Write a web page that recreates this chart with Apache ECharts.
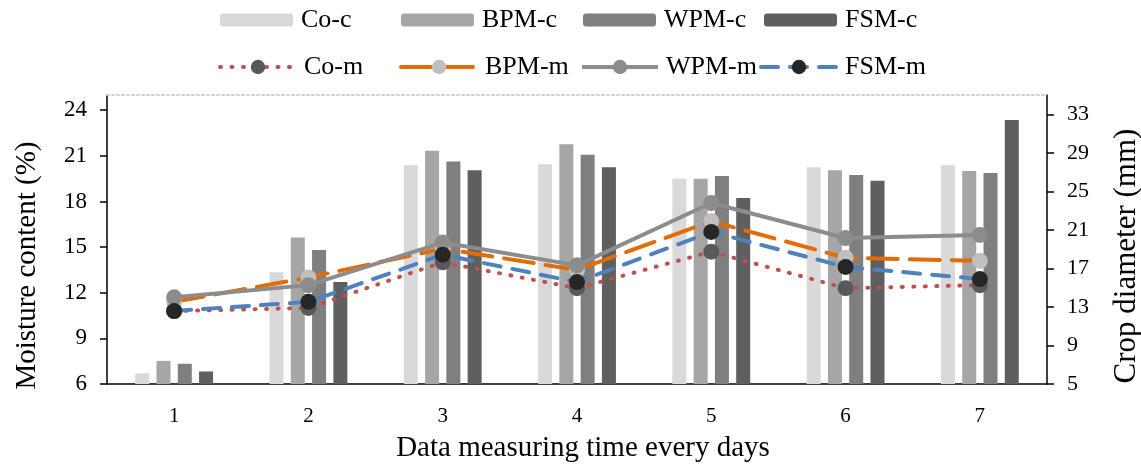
<!DOCTYPE html>
<html>
<head>
<meta charset="utf-8">
<script src="https://cdn.jsdelivr.net/npm/echarts@6/dist/echarts.min.js"></script>
<style>
html, body { margin: 0; padding: 0; background: #fff; }
#main { width: 1141px; height: 467px; }
</style>
</head>
<body>
<div id="main"></div>
<script>
var days = ['1', '2', '3', '4', '5', '6', '7'];
var moistTicks = [6, 9, 12, 15, 18, 21, 24];
var cropTicks = [5, 9, 13, 17, 21, 25, 29, 33];

// crop diameter (mm), right axis
var coC  = [6.1, 16.6, 27.7, 27.8, 26.3, 27.5, 27.7];
var bpmC = [7.4, 20.2, 29.2, 29.9, 26.3, 27.2, 27.1];
var wpmC = [7.1, 18.9, 28.1, 28.8, 26.6, 26.7, 26.9];
var fsmC = [6.3, 15.6, 27.2, 27.5, 24.3, 26.1, 32.4];

// moisture content (%), left axis
var coM  = [10.8, 11.0, 14.0, 12.3, 14.7, 12.3, 12.5];
var bpmM = [11.4, 13.0, 14.9, 13.5, 16.7, 14.3, 14.1];
var wpmM = [11.7, 12.5, 15.3, 13.8, 17.9, 15.6, 15.8];
var fsmM = [10.8, 11.4, 14.5, 12.7, 16.0, 13.7, 12.9];

var barNames = ['Co-c', 'BPM-c', 'WPM-c', 'FSM-c'];
var lineNames = ['Co-m', 'BPM-m', 'WPM-m', 'FSM-m'];

var font = 'Liberation Serif';

function drawChart() {
	var chart = echarts.init(document.getElementById('main'));

	var barLeft = [215, 396, 578, 759];
	var lineLeft = [213, 394, 575, 754];
	var legends = [];
	for (var i = 0; i < 4; i++) {
		legends.push({
			left: barLeft[i], top: 2,
			itemWidth: 73, itemHeight: 13,
			data: [barNames[i]],
			textStyle: { fontFamily: font, fontSize: 26, color: '#000', padding: [0, 0, 0, 3] }
		});
		legends.push({
			left: lineLeft[i], top: 49,
			itemWidth: 76, itemHeight: 18,
			lineStyle: { width: 4 },
			data: [lineNames[i]],
			textStyle: { fontFamily: font, fontSize: 26, color: '#000', padding: [0, 0, 0, 3] }
		});
	}

	var barColors = ['#D9D9D9', '#A6A6A6', '#7F7F7F', '#5F5F5F'];
	var barData = [coC, bpmC, wpmC, fsmC];

	var series = [];
	for (var j = 0; j < 4; j++) {
		series.push({
			name: barNames[j],
			type: 'bar',
			yAxisIndex: 1,
			barWidth: 14,
			barGap: '52%',
			itemStyle: { color: barColors[j] },
			data: barData[j]
		});
	}

	series.push({
		name: 'Co-m', type: 'line', yAxisIndex: 0,
		symbol: 'circle', symbolSize: 16,
		lineStyle: { color: '#C0504D', width: 4, type: [1, 10.5], cap: 'round' },
		itemStyle: { color: '#595959' },
		data: coM
	});
	series.push({
		name: 'BPM-m', type: 'line', yAxisIndex: 0,
		symbol: 'circle', symbolSize: 16,
		lineStyle: { color: '#E36C09', width: 4, type: [30, 12], cap: 'round' },
		itemStyle: { color: '#BFBFBF' },
		data: bpmM
	});
	series.push({
		name: 'WPM-m', type: 'line', yAxisIndex: 0,
		symbol: 'circle', symbolSize: 16,
		lineStyle: { color: '#8C8C8C', width: 4 },
		itemStyle: { color: '#8C8C8C' },
		data: wpmM
	});
	series.push({
		name: 'FSM-m', type: 'line', yAxisIndex: 0,
		symbol: 'circle', symbolSize: 16,
		lineStyle: { color: '#4F81BD', width: 4, type: [17, 12], cap: 'round' },
		itemStyle: { color: '#262626' },
		data: fsmM
	});

	var option = {
		animation: false,
		legend: legends,
		grid: { left: 107, right: 94, top: 95, bottom: 83, outerBoundsMode: 'none' },
		xAxis: [{
			type: 'category',
			data: days,
			name: 'Data measuring time every days',
			nameLocation: 'middle',
			nameGap: 50,
			nameTextStyle: { fontFamily: font, fontSize: 29, color: '#000', padding: [0, 0, 0, 12] },
			axisLine: { lineStyle: { color: '#000', width: 1.5 } },
			axisTick: { length: 7, lineStyle: { color: '#000', width: 1.5 } },
			axisLabel: { fontFamily: font, fontSize: 21, color: '#000', margin: 22 }
		}, {
			type: 'category',
			data: days,
			position: 'top',
			axisLine: { lineStyle: { color: '#CFCFCF', width: 2, type: [2, 3] } },
			axisTick: { show: false },
			axisLabel: { show: false }
		}],
		yAxis: [{
			type: 'value',
			min: 6, max: 25,
			name: 'Moisture content (%)',
			nameLocation: 'middle',
			nameGap: 65,
			nameTextStyle: { fontFamily: font, fontSize: 29, color: '#000', padding: [0, 52, 0, 0] },
			splitLine: { show: false },
			axisLine: { show: true, lineStyle: { color: '#000', width: 1.5 } },
			axisTick: { show: true, length: 7, customValues: moistTicks, lineStyle: { color: '#000', width: 1.5 } },
			axisLabel: { fontFamily: font, fontSize: 23, color: '#000', margin: 20, customValues: moistTicks }
		}, {
			type: 'value',
			min: 5, max: 35,
			position: 'right',
			name: 'Crop diameter (mm)',
			nameLocation: 'middle',
			nameGap: 64,
			nameRotate: 90,
			nameTextStyle: { fontFamily: font, fontSize: 31, color: '#000', padding: [0, 33, 0, 0] },
			splitLine: { show: false },
			axisLine: { show: true, lineStyle: { color: '#000', width: 1.5 } },
			axisTick: { show: true, length: 7, customValues: cropTicks, lineStyle: { color: '#000', width: 1.5 } },
			axisLabel: { fontFamily: font, fontSize: 22, color: '#000', margin: 20, customValues: cropTicks }
		}],
		series: series
	};
	chart.setOption(option);
}
drawChart();
</script>
</body>
</html>
